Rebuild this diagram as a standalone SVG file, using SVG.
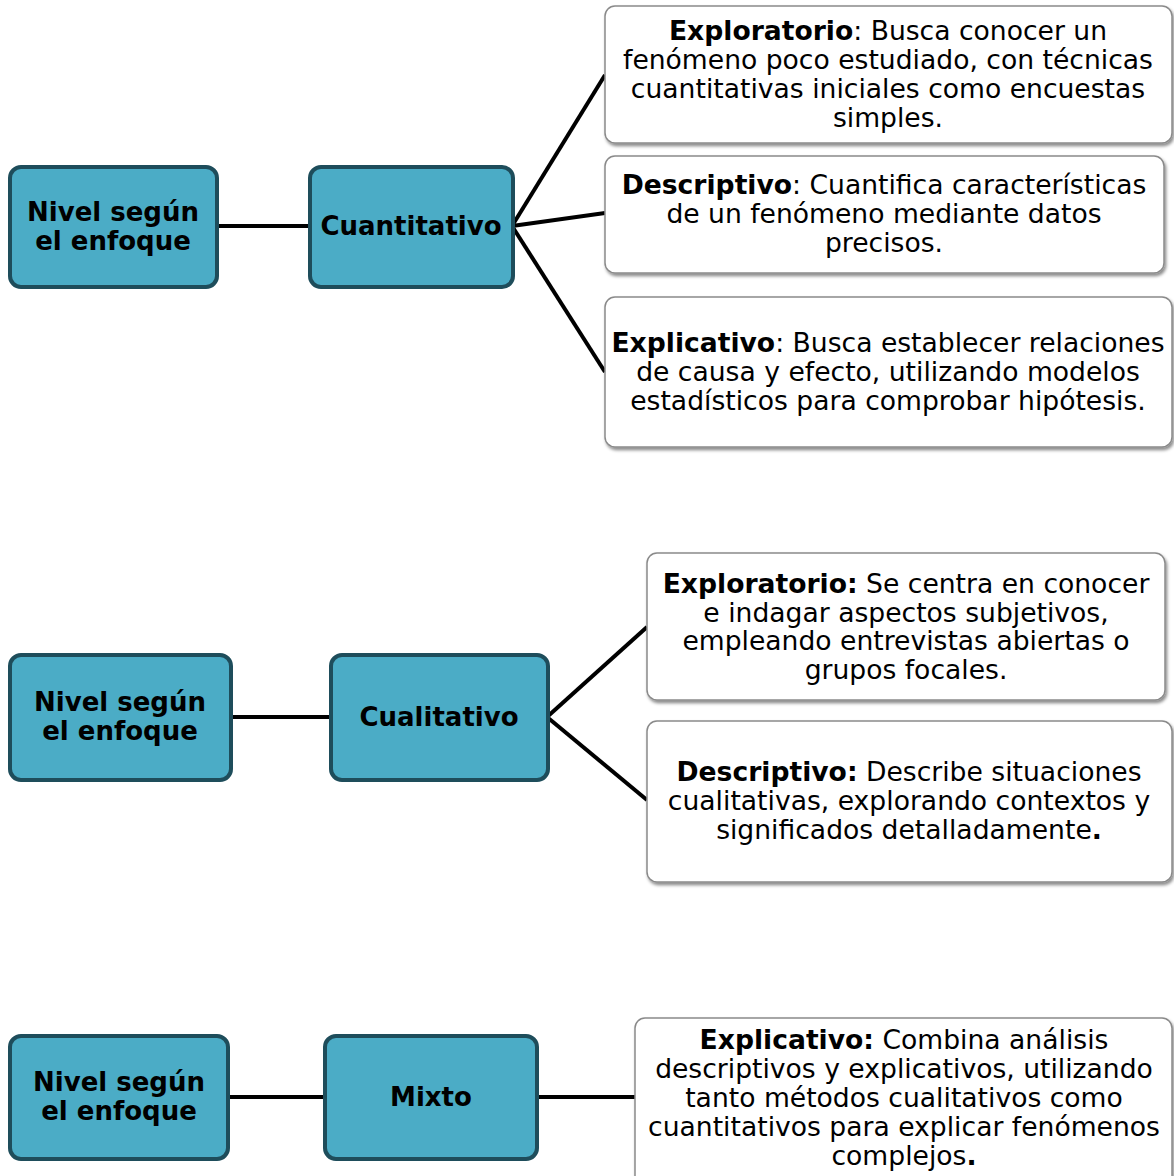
<svg xmlns="http://www.w3.org/2000/svg" width="1174" height="1176" viewBox="0 0 1174 1176">
<defs>
<filter id="sh" x="-5%" y="-5%" width="110%" height="115%">
<feDropShadow dx="1.5" dy="2.5" stdDeviation="1.5" flood-color="#000" flood-opacity="0.45"/>
</filter>
</defs>
<style>
.node rect{fill:#4BACC6;stroke:#1E4D5B;stroke-width:4}
.node text{font-family:"DejaVu Sans",Verdana,sans-serif;font-weight:bold;font-size:26px;fill:#000;text-anchor:middle}
.box rect{fill:#fff;stroke:#8a8a8a;stroke-width:1.5;filter:url(#sh)}
.box text{font-family:"DejaVu Sans",Verdana,sans-serif;font-size:26.6px;fill:#000;text-anchor:middle}
.b{font-weight:bold}
.conn line{stroke:#000;stroke-width:4}
</style>
<g class="conn">
<line x1="218" y1="226" x2="309" y2="226"/>
<line x1="512" y1="226" x2="605" y2="75"/>
<line x1="512" y1="226" x2="605" y2="213"/>
<line x1="512" y1="226" x2="605" y2="372"/>
<line x1="232" y1="717" x2="330" y2="717"/>
<line x1="547" y1="717" x2="647" y2="627"/>
<line x1="547" y1="717" x2="647" y2="800"/>
<line x1="229" y1="1097" x2="324" y2="1097"/>
<line x1="538" y1="1097" x2="635" y2="1097"/>
</g>
<g id="n1" class="node"><rect x="10" y="167" width="207" height="120" rx="11"/><text x="113" y="221">Nivel según</text><text x="113" y="250">el enfoque</text></g>
<g id="n2" class="node"><rect x="310" y="167" width="203" height="120" rx="11"/><text x="411" y="235">Cuantitativo</text></g>
<g id="b1" class="box"><rect x="605" y="6" width="567" height="137" rx="10"/>
<text x="888" y="40"><tspan class="b">Exploratorio</tspan>: Busca conocer un</text>
<text x="888" y="69">fenómeno poco estudiado, con técnicas</text>
<text x="888" y="98">cuantitativas iniciales como encuestas</text>
<text x="888" y="127">simples.</text></g>
<g id="b2" class="box"><rect x="605" y="156" width="559" height="117" rx="10"/>
<text x="884" y="194"><tspan class="b">Descriptivo</tspan>: Cuantifica características</text>
<text x="884" y="223">de un fenómeno mediante datos</text>
<text x="884" y="252">precisos.</text></g>
<g id="b3" class="box"><rect x="605" y="297" width="567" height="150" rx="10"/>
<text x="888" y="352"><tspan class="b">Explicativo</tspan>: Busca establecer relaciones</text>
<text x="888" y="381">de causa y efecto, utilizando modelos</text>
<text x="888" y="410">estadísticos para comprobar hipótesis.</text></g>
<g id="n3" class="node"><rect x="10" y="655" width="221" height="125" rx="11"/><text x="120" y="711">Nivel según</text><text x="120" y="740">el enfoque</text></g>
<g id="n4" class="node"><rect x="331" y="655" width="217" height="125" rx="11"/><text x="439" y="726">Cualitativo</text></g>
<g id="b4" class="box"><rect x="647" y="553" width="518" height="147" rx="10"/>
<text x="906" y="593"><tspan class="b">Exploratorio:</tspan> Se centra en conocer</text>
<text x="906" y="622">e indagar aspectos subjetivos,</text>
<text x="906" y="650">empleando entrevistas abiertas o</text>
<text x="906" y="679">grupos focales.</text></g>
<g id="b5" class="box"><rect x="647" y="721" width="525" height="161" rx="10"/>
<text x="909" y="781"><tspan class="b">Descriptivo:</tspan> Describe situaciones</text>
<text x="909" y="810">cualitativas, explorando contextos y</text>
<text x="909" y="839">significados detalladamente<tspan class="b">.</tspan></text></g>
<g id="n5" class="node"><rect x="10" y="1036" width="218" height="123" rx="11"/><text x="119" y="1091">Nivel según</text><text x="119" y="1120">el enfoque</text></g>
<g id="n6" class="node"><rect x="325" y="1036" width="212" height="123" rx="11"/><text x="431" y="1106">Mixto</text></g>
<g id="b6" class="box"><rect x="635" y="1018" width="537" height="170" rx="10"/>
<text x="904" y="1049"><tspan class="b">Explicativo:</tspan> Combina análisis</text>
<text x="904" y="1078">descriptivos y explicativos, utilizando</text>
<text x="904" y="1107">tanto métodos cualitativos como</text>
<text x="904" y="1136">cuantitativos para explicar fenómenos</text>
<text x="904" y="1165">complejos<tspan class="b">.</tspan></text></g>
</svg>
